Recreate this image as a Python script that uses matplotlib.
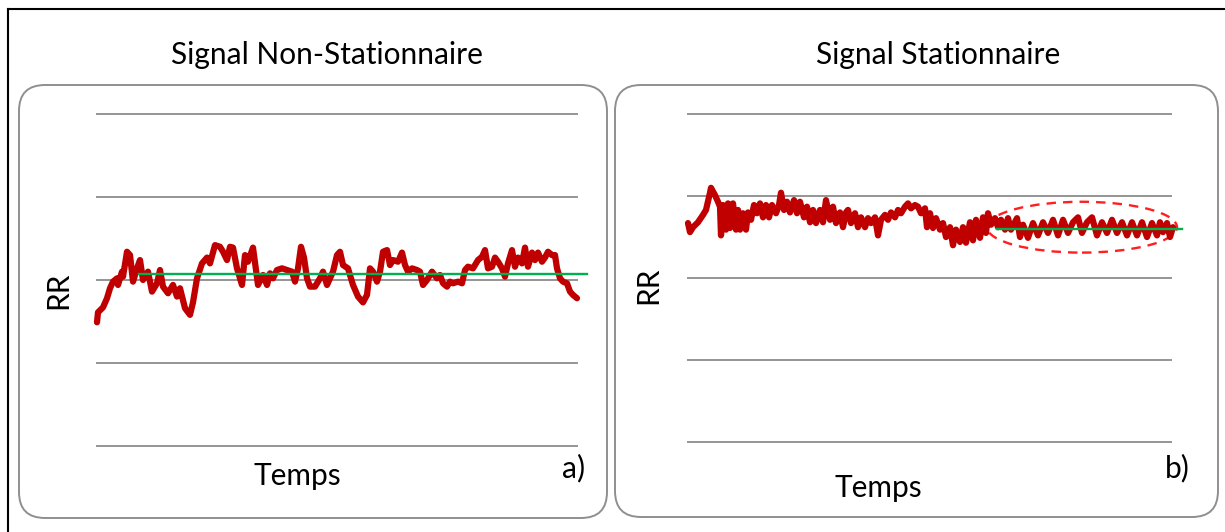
import matplotlib.pyplot as plt
from matplotlib.patches import FancyBboxPatch, Ellipse
from matplotlib.lines import Line2D
from matplotlib.transforms import IdentityTransform

plt.rcParams['font.family'] = ['Lato', 'DejaVu Sans']

W, H = 1225, 532  # output size in pixels (dpi 100)

# grid levels (arbitrary RR units, no tick labels in the original)
grid_levels = [0, 1, 2, 3, 4]

# a) non-stationary RR series
t_ns = [1, 2, 7, 11, 14, 17, 21, 22, 26, 27,
        31, 34, 37, 41, 44, 47, 52, 56, 61, 64,
        67, 72, 77, 81, 84, 89, 94, 97, 101, 106,
        111, 114, 119, 124, 127, 131, 134, 137, 141, 146,
        149, 152, 157, 162, 167, 171, 174, 177, 181, 186,
        191, 196, 199, 202, 205, 208, 211, 214, 219, 224,
        227, 231, 234, 237, 241, 244, 247, 252, 257, 262,
        267, 271, 274, 277, 281, 284, 287, 291, 294, 297,
        302, 306, 309, 312, 316, 321, 324, 327, 331, 336,
        341, 344, 347, 351, 354, 357, 362, 366, 369, 372,
        377, 382, 386, 389, 392, 396, 399, 402, 406, 409,
        412, 416, 419, 422, 426, 429, 432, 436, 439, 442,
        446, 449, 452, 456, 459, 461, 464, 467, 471, 474,
        477, 481]
rr_ns = [1.49, 1.61, 1.67, 1.78, 1.90, 1.98, 2.02, 1.94, 2.10, 2.04,
         2.34, 2.30, 1.98, 2.14, 2.24, 2.00, 2.10, 1.86, 1.96, 2.12,
         1.92, 1.84, 1.94, 1.80, 1.90, 1.66, 1.58, 1.73, 2.02, 2.20,
         2.27, 2.20, 2.42, 2.40, 2.34, 2.24, 2.40, 2.39, 2.14, 1.94,
         2.30, 2.22, 2.39, 1.94, 2.06, 1.94, 2.08, 2.02, 2.12, 2.14,
         2.12, 2.10, 1.98, 2.14, 2.40, 2.27, 2.02, 1.92, 1.92, 2.02,
         2.10, 1.94, 2.02, 2.10, 2.30, 2.34, 2.18, 2.14, 1.94, 1.80,
         1.73, 1.82, 2.14, 2.10, 1.98, 2.10, 2.34, 2.36, 2.18, 2.24,
         2.22, 2.33, 2.18, 2.10, 2.14, 2.12, 2.10, 1.94, 2.00, 2.10,
         2.02, 2.06, 1.96, 1.92, 1.98, 1.96, 1.98, 1.96, 2.12, 2.16,
         2.14, 2.24, 2.28, 2.36, 2.14, 2.16, 2.27, 2.22, 2.14, 2.04,
         2.20, 2.36, 2.16, 2.27, 2.20, 2.39, 2.16, 2.33, 2.24, 2.33,
         2.22, 2.27, 2.34, 2.30, 2.30, 2.14, 2.02, 1.98, 1.96, 1.86,
         1.82, 1.78]
mean_ns = 2.07
mean_ns_t = [43, 491]

# b) stationary RR series
t_st = [1, 3, 6, 11, 16, 19, 23, 24, 28, 31, 33, 34, 36, 39, 41, 43, 46, 49, 51, 53,
        56, 59, 61, 64, 67, 70, 73, 76, 79, 82, 85, 89, 92, 94, 97, 100, 103, 107, 110, 113,
        117, 120, 123, 126, 129, 133, 136, 139, 143, 146, 149, 153, 156, 159, 161, 164, 168, 171, 174, 178,
        181, 184, 188, 191, 194, 198, 201, 204, 208, 211, 214, 218, 221, 224, 228, 231, 234, 238, 240, 243,
        246, 249, 253, 256, 259, 263, 266, 269, 273, 276, 279, 283, 286, 289, 293, 296, 299, 301, 304, 308,
        311, 314, 318, 321, 324, 330, 333, 336, 341, 346, 351, 356, 361, 366, 371, 376, 381, 386, 391, 395,
        400, 405, 410, 415, 420, 425, 430, 435, 440, 445, 450, 455, 460, 465, 470, 473, 476, 480, 483, 486]
rr_st = [2.67, 2.56, 2.62, 2.68, 2.77, 2.83, 3.04, 3.10, 3.01, 2.93, 2.87, 2.52, 2.89, 2.59, 2.91, 2.61, 2.91, 2.59, 2.83, 2.59,
         2.79, 2.59, 2.80, 2.71, 2.89, 2.79, 2.91, 2.74, 2.89, 2.74, 2.89, 2.79, 2.89, 3.04, 2.83, 2.93, 2.80, 2.95, 2.79, 2.93,
         2.74, 2.87, 2.68, 2.83, 2.67, 2.83, 2.68, 2.95, 2.71, 2.87, 2.67, 2.80, 2.62, 2.80, 2.83, 2.67, 2.79, 2.62, 2.74, 2.62,
         2.73, 2.67, 2.74, 2.52, 2.71, 2.77, 2.71, 2.80, 2.74, 2.83, 2.79, 2.87, 2.91, 2.85, 2.89, 2.87, 2.79, 2.85, 2.62, 2.79,
         2.61, 2.73, 2.59, 2.67, 2.50, 2.62, 2.40, 2.59, 2.44, 2.62, 2.43, 2.68, 2.46, 2.71, 2.49, 2.74, 2.55, 2.79, 2.65, 2.73,
         2.62, 2.71, 2.59, 2.73, 2.59, 2.73, 2.50, 2.65, 2.49, 2.67, 2.52, 2.68, 2.55, 2.71, 2.52, 2.71, 2.55, 2.68, 2.74, 2.55,
         2.68, 2.74, 2.52, 2.68, 2.55, 2.71, 2.55, 2.68, 2.52, 2.68, 2.52, 2.68, 2.50, 2.67, 2.52, 2.68, 2.56, 2.67, 2.50, 2.62]
mean_st = 2.60
mean_st_t = [310, 495]
zone_st = (395, 2.62, 190, 0.62)  # centre t, centre rr, width, height


def px_axes(fig, x0, x1, y0, y1):
    # axes rectangle from image pixels (y measured from the top)
    return fig.add_axes([x0 / W, 1 - y1 / H, (x1 - x0) / W, (y1 - y0) / H])


fig = plt.figure(figsize=(W / 100, H / 100), dpi=100)

# outer frame (top and left edge only visible)
fig.add_artist(Line2D([8, W], [H - 9, H - 9], color='black', lw=1.5, transform=IdentityTransform()))
fig.add_artist(Line2D([8, 8], [0, H - 9], color='black', lw=1.5, transform=IdentityTransform()))

# rounded panel boxes
for x0, x1, y0, y1 in [(19, 607, 85, 518), (615, 1218, 85, 517)]:
    box = FancyBboxPatch((x0, H - y1), x1 - x0, y1 - y0,
                         boxstyle="round,pad=0,rounding_size=26",
                         fc='none', ec='#8f8f8f', lw=1.4, transform=IdentityTransform())
    fig.add_artist(box)

grid_color = '#8c8c8c'
red = '#C00000'
green = '#00B050'

# panel a
ax1 = px_axes(fig, 20, 605, 90, 500)
ax1.set_xlim(-76, 509)
ax1.set_ylim(-0.651, 4.289)
ax1.hlines(grid_levels, 0, 482, color=grid_color, lw=1.3)
ax1.plot(t_ns, rr_ns, color=red, lw=4.5, solid_joinstyle='round', solid_capstyle='round')
ax1.plot(mean_ns_t, [mean_ns, mean_ns], color=green, lw=1.7)
ax1.axis('off')

# panel b
ax2 = px_axes(fig, 617, 1215, 90, 500)
ax2.set_xlim(-70, 528)
ax2.set_ylim(-0.707, 4.293)
ax2.hlines(grid_levels, 0, 485, color=grid_color, lw=1.3)
ax2.plot(t_st, rr_st, color=red, lw=4.5, solid_joinstyle='round', solid_capstyle='round')
ax2.plot(mean_st_t, [mean_st, mean_st], color=green, lw=1.7)
ax2.add_patch(Ellipse((zone_st[0], zone_st[1]), zone_st[2], zone_st[3],
                      fill=False, ec='#FF1F1F', lw=1.7, ls=(0, (4, 3))))
ax2.axis('off')

fs = 21.5
fig.text(327 / W, 1 - 55 / H, "Signal Non-Stationnaire", ha='center', va='center', fontsize=fs)
fig.text(938 / W, 1 - 55 / H, "Signal Stationnaire", ha='center', va='center', fontsize=fs)
fig.text(297 / W, 1 - 476 / H, "Temps", ha='center', va='center', fontsize=fs)
fig.text(878 / W, 1 - 488 / H, "Temps", ha='center', va='center', fontsize=fs)
fig.text(58 / W, 1 - 290 / H, "RR", ha='center', va='center', rotation=90, fontsize=fs)
fig.text(648 / W, 1 - 285 / H, "RR", ha='center', va='center', rotation=90, fontsize=fs)
fig.text(574 / W, 1 - 468 / H, "a)", ha='center', va='center', fontsize=fs)
fig.text(1177 / W, 1 - 468 / H, "b)", ha='center', va='center', fontsize=fs)

fig.savefig("out.png", dpi=100)
